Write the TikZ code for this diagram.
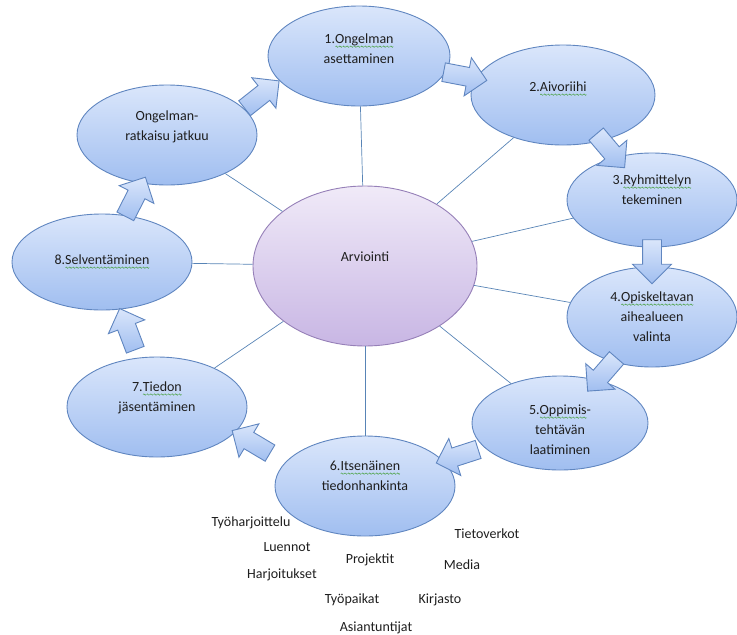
\documentclass[tikz,border=0pt]{standalone}
\usepackage{fontspec}
\setmainfont{Carlito}
\usetikzlibrary{shapes.geometric,shapes.arrows}

\definecolor{phaseline}{RGB}{96,134,192}
\definecolor{phasetop}{RGB}{218,230,251}
\definecolor{phasebot}{RGB}{160,190,240}
\definecolor{hubline}{RGB}{150,128,184}
\definecolor{hubtop}{RGB}{240,234,248}
\definecolor{hubbot}{RGB}{200,182,228}
\definecolor{spokeblue}{RGB}{88,132,182}
\definecolor{inkgray}{RGB}{30,30,30}
\definecolor{spellgreen}{RGB}{70,160,60}

% wavy green line under a word
\newsavebox\wavebit
\newcommand\spellmark[1]{\leavevmode\setbox0\hbox{#1}\rlap{\raisebox{-3.8pt}[0pt][0pt]{\hbox to \wd0{\xleaders\copy\wavebit\hfill}}}\box0}

\tikzset{
  phase/.style={ellipse, draw=phaseline, line width=0.9pt, top color=phasetop, bottom color=phasebot, inner sep=0pt},
  hub/.style={ellipse, draw=hubline, line width=0.9pt, top color=hubtop, bottom color=hubbot, inner sep=0pt},
  spoke/.style={draw=spokeblue, line width=0.7pt},
  flow/.style={single arrow, draw=phaseline, line width=0.9pt, top color=phasetop, bottom color=phasebot,
    inner xsep=0pt, inner ysep=9pt, minimum height=44pt, single arrow head extend=10pt, sloped, allow upside down},
  txt/.style={font=\fontsize{14}{20}\selectfont, text=inkgray, align=center}
}

\begin{document}
\sbox\wavebit{\begin{pgfpicture}%
  \pgfsetlinewidth{0.5pt}\pgfsetstrokecolor{spellgreen}%
  \pgfpathmoveto{\pgfpoint{0pt}{0pt}}%
  \pgfpathsine{\pgfpoint{0.75pt}{0.7pt}}%
  \pgfpathcosine{\pgfpoint{0.75pt}{-0.7pt}}%
  \pgfpathsine{\pgfpoint{0.75pt}{-0.7pt}}%
  \pgfpathcosine{\pgfpoint{0.75pt}{0.7pt}}%
  \pgfusepath{stroke}%
\end{pgfpicture}}%
\begin{tikzpicture}[x=1pt,y=-1pt]
		\useasboundingbox (0,0) rectangle (737,635);
		
		% ellipses
		\node[hub, minimum width=224pt, minimum height=160pt] (c) at (365,266) {};
		\node[phase, minimum width=182pt, minimum height=100pt] (e1) at (359,56) {};
		\node[phase, minimum width=184pt, minimum height=100pt] (e2) at (563,95) {};
		\node[phase, minimum width=170pt, minimum height=94pt] (e3) at (652,200) {};
		\node[phase, minimum width=170pt, minimum height=100pt] (e4) at (652,317) {};
		\node[phase, minimum width=176pt, minimum height=94pt] (e5) at (560,423) {};
		\node[phase, minimum width=180pt, minimum height=100pt] (e6) at (365,486) {};
		\node[phase, minimum width=180pt, minimum height=100pt] (e7) at (157,407) {};
		\node[phase, minimum width=180pt, minimum height=96pt] (e8) at (102,262) {};
		\node[phase, minimum width=180pt, minimum height=100pt] (e9) at (167,135) {};
		
		% spokes
		\draw[spoke] (c) -- (e1);
		\draw[spoke] (c) -- (e2);
		\draw[spoke] (c) -- (e3);
		\draw[spoke] (c) -- (e4);
		\draw[spoke] (c) -- (e5);
		\draw[spoke] (c) -- (e6);
		\draw[spoke] (c) -- (e7);
		\draw[spoke] (c) -- (e8);
		\draw[spoke] (c) -- (e9);
		
		% block arrows
		\path (e1) -- node[flow] (a12) {} (e2);
		\path (e2) -- node[flow, pos=0.4] (a23) {} (e3);
		\path (e3) -- node[flow] (a34) {} (e4);
		\path (e4) -- node[flow, pos=0.5] (a45) {} (e5);
		\path (e5) -- node[flow, pos=0.55] (a56) {} (e6);
		\path (e6) -- node[flow, pos=0.6, rotate=-10] (a67) {} (e7);
		\path (e7) -- node[flow] (a78) {} (e8);
		\path (e8) -- node[flow, pos=0.45] (a89) {} (e9);
		\path (e9) -- node[flow, pos=0.4, rotate=16] (a91) {} (e1);
		
		% texts
		\node[txt] (tc) at ([yshift=9pt]c.center) {Arviointi};
		\node[txt] (t1) at ([yshift=7pt]e1.center) {1.\spellmark{Ongelman}\\asettaminen};
		\node[txt] (t2) at ([xshift=-5pt,yshift=8pt]e2.center) {2.\spellmark{Aivoriihi}};
		\node[txt] (t3) at ([yshift=10pt]e3.center) {3.\spellmark{Ryhmittelyn}\\tekeminen};
		\node[txt] (t4) at (e4.center) {4.\spellmark{Opiskeltavan}\\aihealueen\\valinta};
		\node[txt] (t5) at ([yshift=-7pt]e5.center) {5.\spellmark{Oppimis}-\\tehtävän\\laatiminen};
		\node[txt] (t6) at ([yshift=10pt]e6.center) {6.\spellmark{Itsenäinen}\\tiedonhankinta};
		\node[txt] (t7) at ([yshift=9pt]e7.center) {7.\spellmark{Tiedon}\\jäsentäminen};
		\node[txt] (t8) at ([yshift=2pt]e8.center) {8.\spellmark{Selventäminen}};
		\node[txt] (t9) at ([yshift=8pt]e9.center) {Ongelman-\\ratkaisu jatkuu};
		
		% sources below
		\node[txt] (w1) at (251,523) {Työharjoittelu};
		\node[txt] (w2) at (287,547) {Luennot};
		\node[txt] (w3) at (282,575) {Harjoitukset};
		\node[txt] (w4) at (370,560) {Projektit};
		\node[txt] (w5) at (352,600) {Työpaikat};
		\node[txt] (w6) at (376,628) {Asiantuntijat};
		\node[txt] (w7) at (487,534) {Tietoverkot};
		\node[txt] (w8) at (462,565) {Media};
		\node[txt] (w9) at (440,600) {Kirjasto};
		\end{tikzpicture}
\end{document}
